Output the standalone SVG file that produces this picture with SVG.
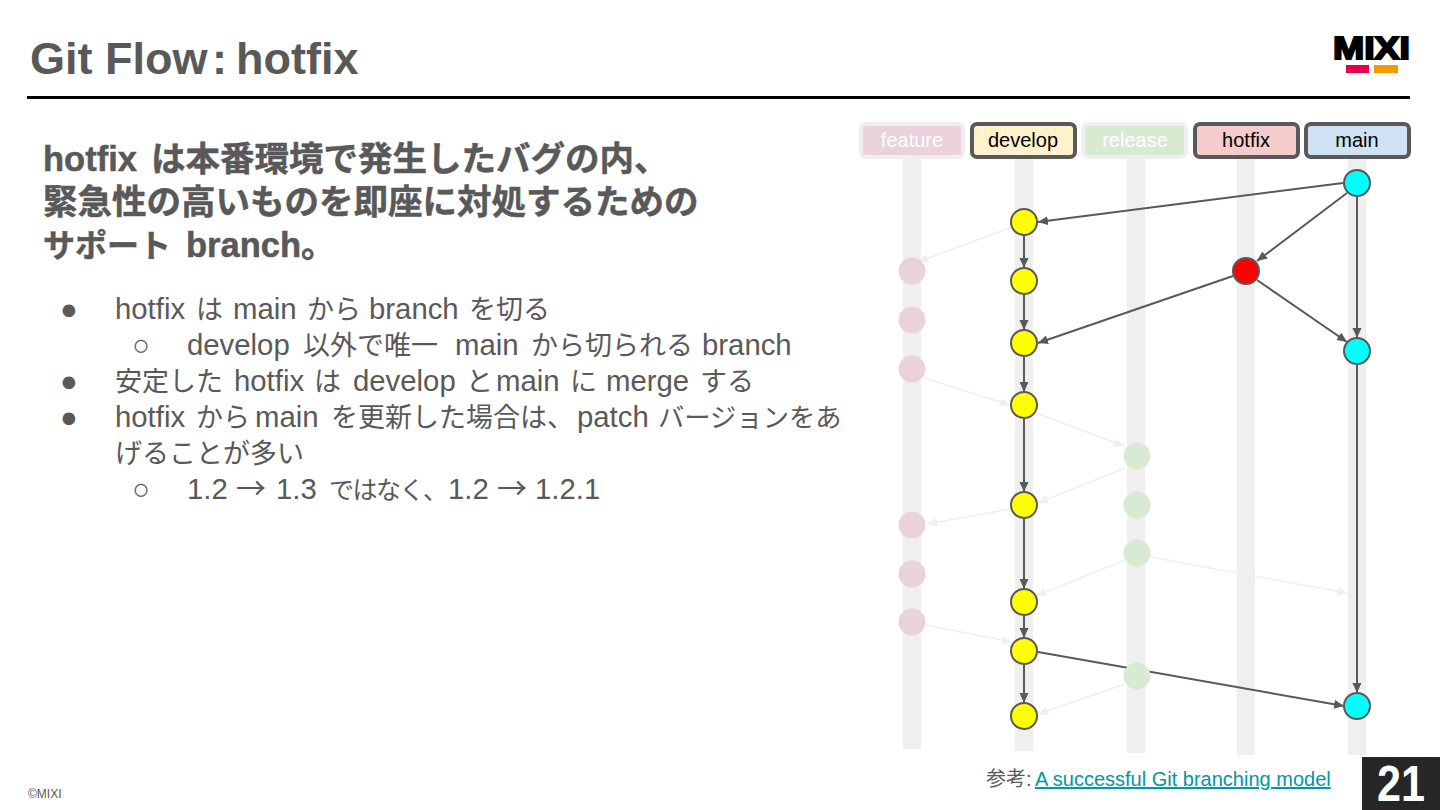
<svg xmlns="http://www.w3.org/2000/svg" width="1440" height="810" viewBox="0 0 1440 810">
<style>
text{font-family:"Liberation Sans","Noto Sans CJK JP",sans-serif;fill:#595959}
.h{font-size:34.5px;font-weight:700;stroke:#595959;stroke-width:.5}
.b{font-size:29.33px}
.c{font-size:27px;font-family:"Noto Sans CJK JP",sans-serif}
.ar{font-size:30px;font-family:"Noto Sans CJK JP",sans-serif}
.lane{fill:#efefef}
.lb{font-size:20px;text-anchor:middle;fill:#000}
.fl{font-size:20px;text-anchor:middle;fill:#fff}
.n{stroke:#595959;stroke-width:2}
.box{stroke:#595959;stroke-width:4}
.fbox{stroke:#efefef;stroke-width:4}
.e{fill:none;stroke:#595959;stroke-width:2;marker-end:url(#a)}
.f{fill:none;stroke:#efefef;stroke-width:1.5;marker-end:url(#b)}
</style>
<defs>
<marker id="a" markerUnits="userSpaceOnUse" markerWidth="11" markerHeight="10" refX="10" refY="4.5" orient="auto"><path d="M0 0L10 4.5L0 9Z" fill="#595959"/></marker>
<marker id="b" markerUnits="userSpaceOnUse" markerWidth="11" markerHeight="10" refX="10" refY="4.5" orient="auto"><path d="M0 0L10 4.5L0 9Z" fill="#efefef"/></marker>
</defs>
<rect width="1440" height="810" fill="#fff"/>
<text x="30" y="74" font-size="45" font-weight="700">Git Flow<tspan x="212">:</tspan><tspan x="236">hotfix</tspan></text>
<rect x="27" y="96" width="1383" height="3" fill="#000"/>
<g id="logo">
<text x="1333" y="59" font-size="32" font-weight="700" textLength="77" lengthAdjust="spacingAndGlyphs" style="fill:#000;stroke:#000;stroke-width:2">MIXI</text>
<rect x="1346" y="65" width="23" height="8" fill="#e6004c"/>
<rect x="1374" y="65" width="24" height="8" fill="#f59a00"/>
</g>
<g id="text">
<text class="h" x="43" y="171">hotfix <tspan x="151">は本番環境で発生したバグの内、</tspan></text>
<text class="h" x="43" y="214">緊急性の高いものを即座に対処するための</text>
<text class="h" x="43" y="257"><tspan style="font-size:32px">サポート</tspan> <tspan x="186">branch。</tspan></text>
<text class="b" x="60" y="319">●</text>
<text class="b" x="115" y="319">hotfix <tspan class="c" x="196">は</tspan> <tspan x="233">main</tspan> <tspan class="c" x="307">から</tspan> <tspan x="369">branch</tspan> <tspan class="c" x="469">を切る</tspan></text>
<text class="b" x="132" y="355">○</text>
<text class="b" x="187" y="355">develop <tspan class="c" x="303">以外で唯一</tspan> <tspan x="455">main</tspan> <tspan class="c" x="531">から切られる</tspan> <tspan x="702">branch</tspan></text>
<text class="b" x="60" y="391">●</text>
<text class="b" x="115" y="391"><tspan class="c">安定した</tspan> <tspan x="234">hotfix</tspan> <tspan class="c" x="314">は</tspan> <tspan x="353">develop</tspan> <tspan class="c" x="466">と</tspan> <tspan x="496">main</tspan> <tspan class="c" x="570">に</tspan> <tspan x="606">merge</tspan> <tspan class="c" x="700">する</tspan></text>
<text class="b" x="60" y="427">●</text>
<text class="b" x="115" y="427">hotfix <tspan class="c" x="196">から</tspan> <tspan x="255">main</tspan> <tspan class="c" x="331">を更新した場合は、</tspan><tspan x="577">patch</tspan> <tspan class="c" style="font-size:26.3px" x="658">バージョンをあ</tspan></text>
<text class="b" x="115" y="463"><tspan class="c">げることが多い</tspan></text>
<text class="b" x="132" y="499">○</text>
<text class="b" x="187" y="499">1.2 <tspan class="ar" x="236">→</tspan> <tspan x="276">1.3</tspan> <tspan class="c" style="font-size:25px;letter-spacing:-1.5px" x="329">ではなく、</tspan><tspan x="448">1.2</tspan> <tspan class="ar" x="497">→</tspan> <tspan x="535">1.2.1</tspan></text>
</g>
<g id="lanes">
<rect class="lane" x="903" y="159" width="18" height="590"/>
<rect class="lane" x="1015" y="159" width="18" height="592"/>
<rect class="lane" x="1127" y="159" width="18" height="594"/>
<rect class="lane" x="1237" y="159" width="18" height="596"/>
<rect class="lane" x="1348" y="159" width="18" height="596"/>
</g>
<g id="connectors">
<path class="f" d="M1012 227L918 262"/>
<path class="f" d="M924 378L1010 405"/>
<path class="f" d="M1036 413L1124 446"/>
<path class="f" d="M1125 468L1038 503"/>
<path class="f" d="M1011 509L927 524"/>
<path class="f" d="M1125 560L1036 596"/>
<path class="f" d="M1150 557L1347 593"/>
<path class="f" d="M926 625L1012 642"/>
<path class="f" d="M1125 684L1038 714"/>
<path class="e" d="M1343 183L1038 222"/>
<path class="e" d="M1024 236V268"/>
<path class="e" d="M1024 295V330"/>
<path class="e" d="M1024 357V392"/>
<path class="e" d="M1024 419V492"/>
<path class="e" d="M1024 519V589"/>
<path class="e" d="M1024 616V638"/>
<path class="e" d="M1024 665V703"/>
<path class="e" d="M1347 193L1257 261"/>
<path class="e" d="M1233 276L1038 343"/>
<path class="e" d="M1257 280L1347 342"/>
<path class="e" d="M1357 197V338"/>
<path class="e" d="M1357 365V693"/>
<path class="e" d="M1038 652L1344 706"/>
</g>
<g id="feature"><rect class="fbox" x="861" y="124" width="102" height="33" rx="5" fill="#ead1dc"/><text class="fl" x="912" y="147">feature</text>
<circle cx="912" cy="271" r="13.5" fill="#ead1dc"/><circle cx="912" cy="320" r="13.5" fill="#ead1dc"/><circle cx="912" cy="369" r="13.5" fill="#ead1dc"/><circle cx="912" cy="525" r="13.5" fill="#ead1dc"/><circle cx="912" cy="574" r="13.5" fill="#ead1dc"/><circle cx="912" cy="622" r="13.5" fill="#ead1dc"/></g>
<g id="develop"><rect class="box" x="972" y="124" width="103" height="33" rx="5" fill="#fff2cc"/><text class="lb" x="1023" y="147">develop</text>
<g class="n" fill="#ff0"><circle cx="1024" cy="222" r="13"/><circle cx="1024" cy="281" r="13"/><circle cx="1024" cy="343" r="13"/><circle cx="1024" cy="405" r="13"/><circle cx="1024" cy="505" r="13"/><circle cx="1024" cy="602" r="13"/><circle cx="1024" cy="651" r="13"/><circle cx="1024" cy="716" r="13"/></g></g>
<g id="release"><rect class="fbox" x="1083" y="124" width="103" height="33" rx="5" fill="#d9ead3"/><text class="fl" x="1135" y="147">release</text>
<circle cx="1137" cy="456" r="13.5" fill="#d9ead3"/><circle cx="1137" cy="505" r="13.5" fill="#d9ead3"/><circle cx="1137" cy="553" r="13.5" fill="#d9ead3"/><circle cx="1137" cy="676" r="13.5" fill="#d9ead3"/></g>
<g id="hotfix"><rect class="box" x="1195" y="124" width="103" height="33" rx="5" fill="#f4cccc"/><text class="lb" x="1246" y="147">hotfix</text>
<circle class="n" cx="1246" cy="271" r="13" fill="#f00"/></g>
<g id="main"><rect class="box" x="1306" y="124" width="103" height="33" rx="5" fill="#cfe2f3"/><text class="lb" x="1357" y="147">main</text>
<g class="n" fill="#0ff"><circle cx="1357" cy="183" r="13"/><circle cx="1357" cy="351" r="13"/><circle cx="1357" cy="706" r="13"/></g></g>
<g id="footer">
<text x="28" y="798" font-size="12">©MIXI</text>
<text x="986" y="786" font-size="20">参考:<tspan x="1035" style="fill:#0097a7" text-decoration="underline">A successful Git branching model</tspan></text>
<rect x="1362" y="757" width="78" height="53" fill="#262626"/>
<text x="1377" y="801" font-size="50" font-weight="700" textLength="48" lengthAdjust="spacingAndGlyphs" style="fill:#fff">21</text>
</g>
</svg>
